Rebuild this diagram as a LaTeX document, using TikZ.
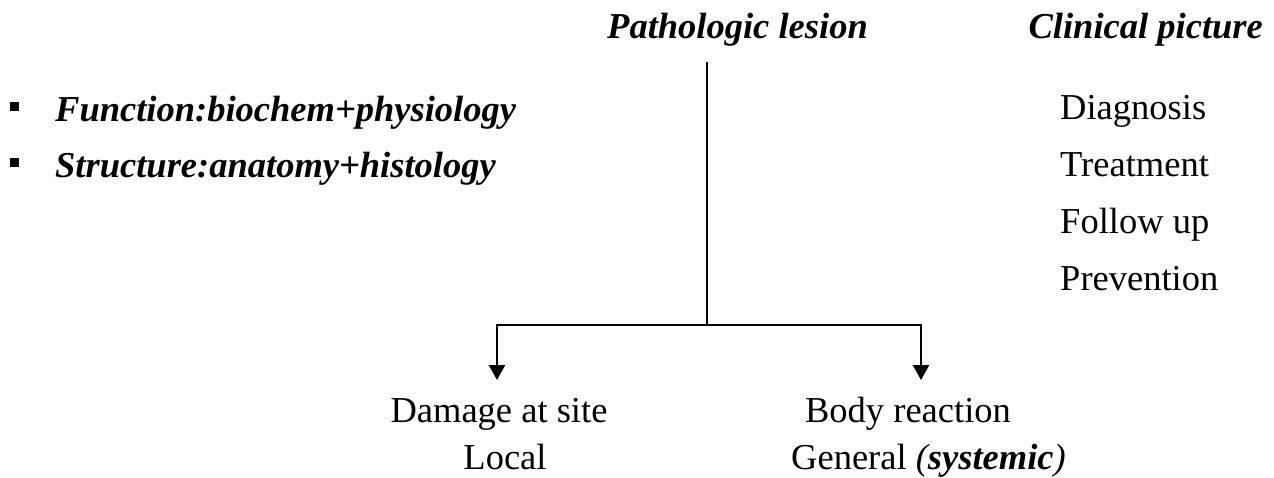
\documentclass[tikz,border=0pt]{standalone}
\usepackage{fontspec}
\setmainfont{Liberation Serif}
\usetikzlibrary{arrows.meta}
\tikzset{
  txt/.style={inner sep=0pt, anchor=base, font=\fontsize{36.5}{40}\selectfont},
  head/.style={inner sep=0pt, anchor=base west, font=\fontsize{36.5}{40}\selectfont\bfseries\itshape},
  lst/.style={inner sep=0pt, anchor=base west, font=\fontsize{36.5}{40}\selectfont},
  blt/.style={inner sep=0pt, anchor=base west, font=\fontsize{36.5}{40}\selectfont\bfseries\itshape},
  sq/.style={fill=black},
  wire/.style={line width=2.2pt},
  arr/.style={line width=2.2pt, -{Triangle[width=16pt,length=15pt]}}
}
\begin{document}
\begin{tikzpicture}[x=1pt,y=-1pt]
\useasboundingbox (0,0) rectangle (1274,477);
\node[head] (lesion) at (607,38) {Pathologic lesion};
\node[head, anchor=base east] (clinical) at (1263,38) {Clinical picture};
\fill[sq] (10,102) rectangle (19,111);
\fill[sq] (10,158) rectangle (19,167);
\node[blt] (func) at (55,121) {Function:biochem+physiology};
\node[blt] (struct) at (55,177) {Structure:anatomy+histology};
\node[lst] (diag) at (1060,119) {Diagnosis};
\node[lst] (treat) at (1060,176) {Treatment};
\node[lst] (follow) at (1060,233) {Follow up};
\node[lst] (prev) at (1060,290) {Prevention};
\node[txt] (damage) at (499,422) {Damage at site};
\node[txt] (local) at (505,469) {Local};
\node[txt] (body) at (908,422) {Body reaction};
\node[lst] (general) at (791,469) {General \textit{(\textbf{systemic})}};
\coordinate (top) at (707,62);
\coordinate (jn) at (707,325);
\coordinate (ltip) at (497,380);
\coordinate (rtip) at (921,380);
\draw[wire] (top) -- (jn);
\draw[arr] (jn) -| (ltip);
\draw[arr] (jn) -| (rtip);
\end{tikzpicture}
\end{document}
